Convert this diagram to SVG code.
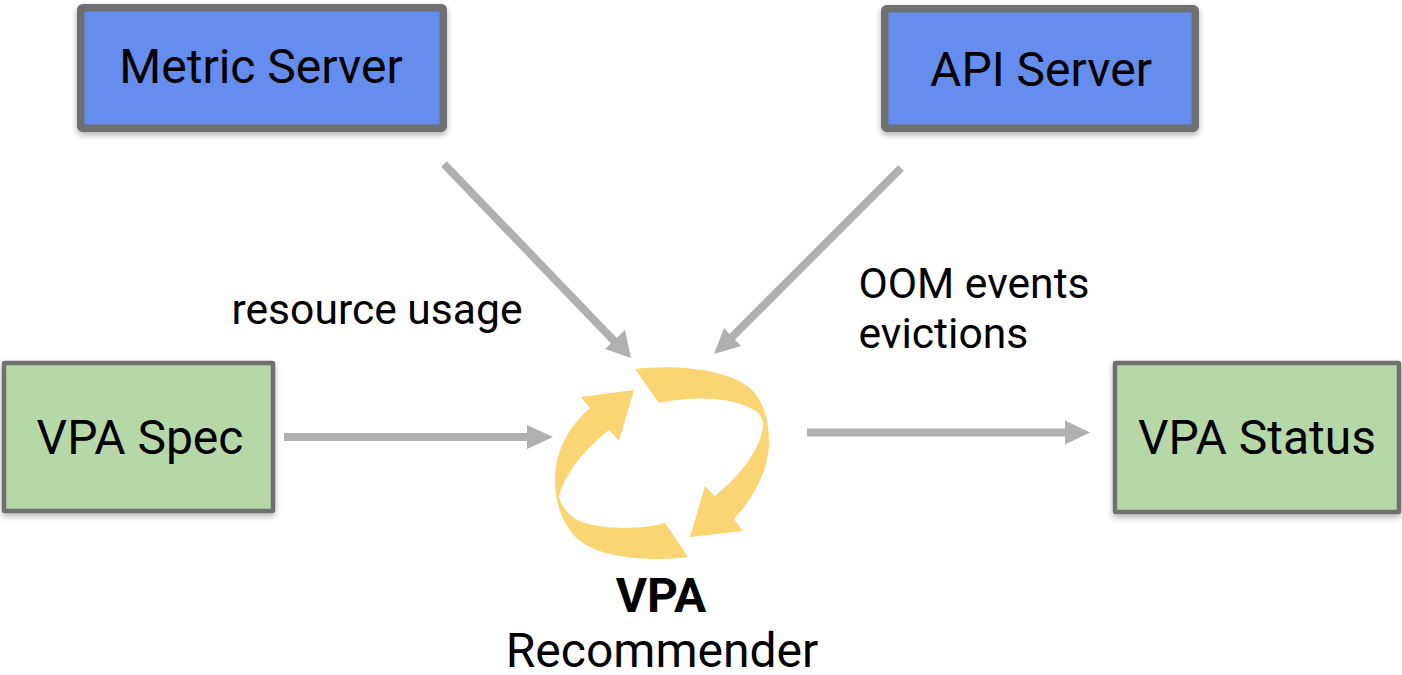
<svg xmlns="http://www.w3.org/2000/svg" width="1402" height="675" viewBox="0 0 1402 675">
<style>
text{font-family:Roboto,"Liberation Sans",sans-serif;fill:#000}
.t{font-size:48px;text-anchor:middle}
.l{font-size:42.600px}
.blue{fill:#658ded;stroke:#6f6f6f;stroke-width:7.5}
.green{fill:#b6d7a8;stroke:#6f6f6f;stroke-width:4.5}
.c{stroke:#b0b0b0;stroke-width:8;fill:none}
.h{fill:#b0b0b0}
.y{fill:#fbd574}
</style>
<defs><filter id="s" x="-10%" y="-15%" width="120%" height="135%"><feDropShadow dx="0" dy="3" stdDeviation="3" flood-color="#000" flood-opacity="0.3"/></filter></defs>
<rect width="1402" height="675" fill="#fff"/>
<g id="connectors">
<path class="c" d="M444 164L618 345"/><polygon class="h" points="631,358 605,349 625,330"/>
<path class="c" d="M901 168L728 341"/><polygon class="h" points="714,354 724,328 741,346"/>
<path class="c" d="M284 437H530"/><polygon class="h" points="553,437 527,425 527,449"/>
<path class="c" d="M807 432.500H1068"/><polygon class="h" points="1090,432.500 1065,420.500 1065,444.500"/>
</g>
<g id="metric-server"><rect class="blue" x="80.700" y="7.800" width="362.600" height="120.500" rx="2" filter="url(#s)"/><text class="t" x="261" y="83">Metric Server</text></g>
<g id="api-server"><rect class="blue" x="884.700" y="8.800" width="310.600" height="119.500" rx="2" filter="url(#s)"/><text class="t" x="1041" y="86">API Server</text></g>
<g id="vpa-spec"><rect class="green" x="4" y="363" width="269" height="148" rx="1" filter="url(#s)"/><text class="t" x="140" y="454">VPA Spec</text></g>
<g id="vpa-status"><rect class="green" x="1115" y="363" width="284" height="149" rx="1" filter="url(#s)"/><text class="t" x="1257" y="454">VPA Status</text></g>
<g id="vpa-recommender">
<path class="y" d="M635 369C665 365 722 366 750 388C766 403 769 425 769 443C769 470 752 500 734 519L743 531L690 537L705 486L715 496C735 480 760 452 763 427C764 415 755 410 750 408C730 397 690 396 659 403Z"/>
<path class="y" d="M688 557C660 561 608 560 583 543C564 530 555 505 555 480C555 450 570 425 590 408L581 397L634 390L619 441L609 430C590 445 565 470 559 497C563 510 572 519 585 523C610 530 645 529 665 523Z"/>
<text x="661" y="612" font-size="48" font-weight="700" text-anchor="middle">VPA</text>
<text x="662" y="667" font-size="48" text-anchor="middle">Recommender</text>
</g>
<text class="l" x="231.500" y="323.500">resource usage</text>
<text class="l" x="858.500" y="297.500">OOM events</text>
<text class="l" x="858.500" y="347.500">evictions</text>
</svg>
